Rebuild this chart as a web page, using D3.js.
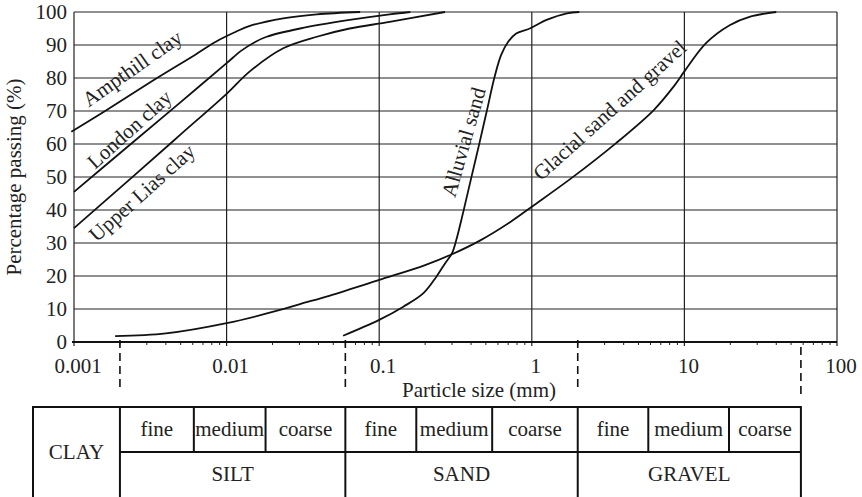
<!DOCTYPE html>
<html>
<head>
<meta charset="utf-8">
<script src="https://cdn.jsdelivr.net/npm/d3@7"></script>
<style>
  body { margin: 0; background: #fff; }
  text { font-family: "Liberation Serif", "Times New Roman", serif; fill: #222; }
</style>
</head>
<body>
<div id="chart"></div>
<script>
// particle size distribution curves (size in mm, percentage passing)
let ampthillSize = [0.00096, 0.0016, 0.0035, 0.0062, 0.0085, 0.0115, 0.0142, 0.0235, 0.039, 0.075]
let ampthillPass = [63.7, 70, 80, 87, 91, 94, 95.8, 98.1, 99.3, 100]

let londonSize = [0.001, 0.0024, 0.005, 0.01, 0.0125, 0.0155, 0.0183, 0.0303, 0.064, 0.117, 0.16]
let londonPass = [45.5, 60.3, 72.7, 84.5, 88.3, 91, 92.5, 95, 97.6, 99.3, 100]

let liasSize = [0.001, 0.0024, 0.005, 0.01, 0.0142, 0.0235, 0.039, 0.064, 0.117, 0.27]
let liasPass = [34.5, 49.9, 62.9, 75.2, 82, 89, 92.5, 95, 97, 100]

let alluvialSize = [0.058, 0.1, 0.144, 0.195, 0.237, 0.27, 0.3, 0.32, 0.356, 0.4, 0.455, 0.51, 0.57, 0.63, 0.7, 0.79, 0.97, 1.25, 1.7, 2.05]
let alluvialPass = [1.9, 6.7, 10.7, 14.8, 19.8, 23.8, 26.9, 30.9, 39.5, 49.5, 60.5, 70.5, 80.3, 87, 91, 93.5, 95, 97.6, 99.6, 100]

let glacialSize = [0.00186, 0.004, 0.01, 0.0224, 0.0303, 0.047, 0.1, 0.2, 0.3, 0.46, 0.72, 1.0, 1.8, 3.55, 6.3, 8.5, 10, 13.8, 19.8, 27, 40]
let glacialPass = [1.8, 2.6, 5.7, 9.7, 11.5, 14, 18.8, 23.3, 26.6, 30.8, 36.3, 41, 49.5, 60.2, 70.3, 77.4, 82, 90.5, 96, 98.6, 100]

let curveNames = ['Ampthill clay', 'London clay', 'Upper Lias clay', 'Alluvial sand', 'Glacial sand and gravel']

// axis ticks
let xTicks = [0.001, 0.01, 0.1, 1, 10, 100]
let xTickLabels = ['0.001', '0.01', '0.1', '1', '10', '100']
let yTicks = [0, 10, 20, 30, 40, 50, 60, 70, 80, 90, 100]

// soil classification boundaries (mm) as drawn under the chart
let dashedSizes = [0.002, 0.06, 2, 58]
let tableBounds = [0.002, 0.0061, 0.018, 0.06, 0.175, 0.55, 2, 5.8, 19.6, 58]
let subLabels = ['fine', 'medium', 'coarse', 'fine', 'medium', 'coarse', 'fine', 'medium', 'coarse']
let mainLabels = ['SILT', 'SAND', 'GRAVEL']

let width = 862
let height = 497
let fontSize = '21px'

let svg = d3.select('#chart').append('svg')
    .attr('width', width)
    .attr('height', height)

let x = d3.scaleLog().domain([0.001, 100]).range([74, 837])
let y = d3.scaleLinear().domain([0, 100]).range([342, 12])

// grid
let grid = svg.append('g')
grid.selectAll('.hgrid')
    .data(yTicks)
    .enter()
    .append('line')
    .attr('x1', x(0.001))
    .attr('x2', x(100))
    .attr('y1', d => y(d))
    .attr('y2', d => y(d))
    .attr('stroke', '#222')
    .attr('stroke-width', 1.2)
grid.selectAll('.vgrid')
    .data(xTicks)
    .enter()
    .append('line')
    .attr('x1', d => x(d))
    .attr('x2', d => x(d))
    .attr('y1', y(100))
    .attr('y2', y(0) + 4)
    .attr('stroke', '#222')
    .attr('stroke-width', 1.2)

// minor ticks on the size axis
let minor = []
for (let k = -3; k < 2; k++) {
    for (let m = 2; m <= 9; m++) minor.push(m * Math.pow(10, k))
}
grid.selectAll('.minor')
    .data(minor)
    .enter()
    .append('line')
    .attr('x1', d => x(d))
    .attr('x2', d => x(d))
    .attr('y1', y(0))
    .attr('y2', y(0) + 3)
    .attr('stroke', '#222')
    .attr('stroke-width', 1)

// bottom axis line a little heavier
svg.append('line')
    .attr('x1', x(0.001) - 2).attr('x2', x(100))
    .attr('y1', y(0)).attr('y2', y(0))
    .attr('stroke', '#111').attr('stroke-width', 1.8)

// tick labels
svg.selectAll('.ylab')
    .data(yTicks)
    .enter()
    .append('text')
    .attr('x', 67)
    .attr('y', d => y(d))
    .attr('dy', '0.35em')
    .attr('text-anchor', 'end')
    .style('font-size', fontSize)
    .text(d => d)

svg.selectAll('.xlab')
    .data(xTicks)
    .enter()
    .append('text')
    .attr('x', d => x(d) + 4)
    .attr('y', 373)
    .attr('text-anchor', 'middle')
    .style('font-size', fontSize)
    .text((d, i) => xTickLabels[i])

// axis titles
svg.append('text')
    .attr('transform', 'translate(21,177) rotate(-90)')
    .attr('text-anchor', 'middle')
    .style('font-size', fontSize)
    .text('Percentage passing (%)')

svg.append('text')
    .attr('x', 479)
    .attr('y', 397)
    .attr('text-anchor', 'middle')
    .style('font-size', fontSize)
    .text('Particle size (mm)')

// the distribution curves
let series = [
    d3.zip(ampthillSize, ampthillPass),
    d3.zip(londonSize, londonPass),
    d3.zip(liasSize, liasPass),
    d3.zip(alluvialSize, alluvialPass),
    d3.zip(glacialSize, glacialPass)
]
let line = d3.line()
    .x(d => x(d[0]))
    .y(d => y(d[1]))
    .curve(d3.curveCatmullRom.alpha(0.5))

svg.selectAll('.curve')
    .data(series)
    .enter()
    .append('path')
    .attr('d', line)
    .attr('fill', 'none')
    .attr('stroke', '#111')
    .attr('stroke-width', 1.8)

// curve labels: centre (size, %) and angle
let labelPlace = [
    [0.0024, 83, -35],
    [0.0023, 64.5, -42],
    [0.00278, 45.3, -42],
    [0.356, 60.6, -74],
    [3.23, 70.3, -42]
]
svg.selectAll('.clab')
    .data(curveNames)
    .enter()
    .append('text')
    .attr('transform', (d, i) => `translate(${x(labelPlace[i][0])},${y(labelPlace[i][1])}) rotate(${labelPlace[i][2]})`)
    .attr('text-anchor', 'middle')
    .attr('dy', '0.35em')
    .style('font-size', fontSize)
    .text(d => d)

// dashed boundary markers under the axis
svg.selectAll('.dash')
    .data(dashedSizes)
    .enter()
    .append('line')
    .attr('x1', d => x(d))
    .attr('x2', d => x(d))
    .attr('y1', (d, i) => i == 3 ? 347 : 340)
    .attr('y2', (d, i) => i == 3 ? 397 : 389)
    .attr('stroke', '#111')
    .attr('stroke-width', 1.6)
    .attr('stroke-dasharray', '8,5')

// classification table
let tTop = 407
let tMid = 452
let tBot = 498
let tLeft = 33
let table = svg.append('g')
    .attr('fill', 'none')
    .attr('stroke', '#111')
    .attr('stroke-width', 2)

table.append('rect')
    .attr('x', tLeft)
    .attr('y', tTop)
    .attr('width', x(tableBounds[9]) - tLeft)
    .attr('height', tBot - tTop)
table.append('line')
    .attr('x1', x(tableBounds[0])).attr('x2', x(tableBounds[9]))
    .attr('y1', tMid).attr('y2', tMid)
table.selectAll('.col')
    .data(tableBounds.slice(0, 9))
    .enter()
    .append('line')
    .attr('x1', d => x(d))
    .attr('x2', d => x(d))
    .attr('y1', tTop)
    .attr('y2', (d, i) => i % 3 == 0 ? tBot : tMid)

svg.append('text')
    .attr('x', (tLeft + x(tableBounds[0])) / 2)
    .attr('y', tMid + 7)
    .attr('text-anchor', 'middle')
    .style('font-size', fontSize)
    .text('CLAY')

svg.selectAll('.sub')
    .data(subLabels)
    .enter()
    .append('text')
    .attr('x', (d, i) => (x(tableBounds[i]) + x(tableBounds[i + 1])) / 2)
    .attr('y', tTop + 29)
    .attr('text-anchor', 'middle')
    .style('font-size', fontSize)
    .text(d => d)

svg.selectAll('.main')
    .data(mainLabels)
    .enter()
    .append('text')
    .attr('x', (d, i) => (x(tableBounds[i * 3]) + x(tableBounds[i * 3 + 3])) / 2)
    .attr('y', tMid + 29)
    .attr('text-anchor', 'middle')
    .style('font-size', fontSize)
    .text(d => d)
</script>
</body>
</html>
